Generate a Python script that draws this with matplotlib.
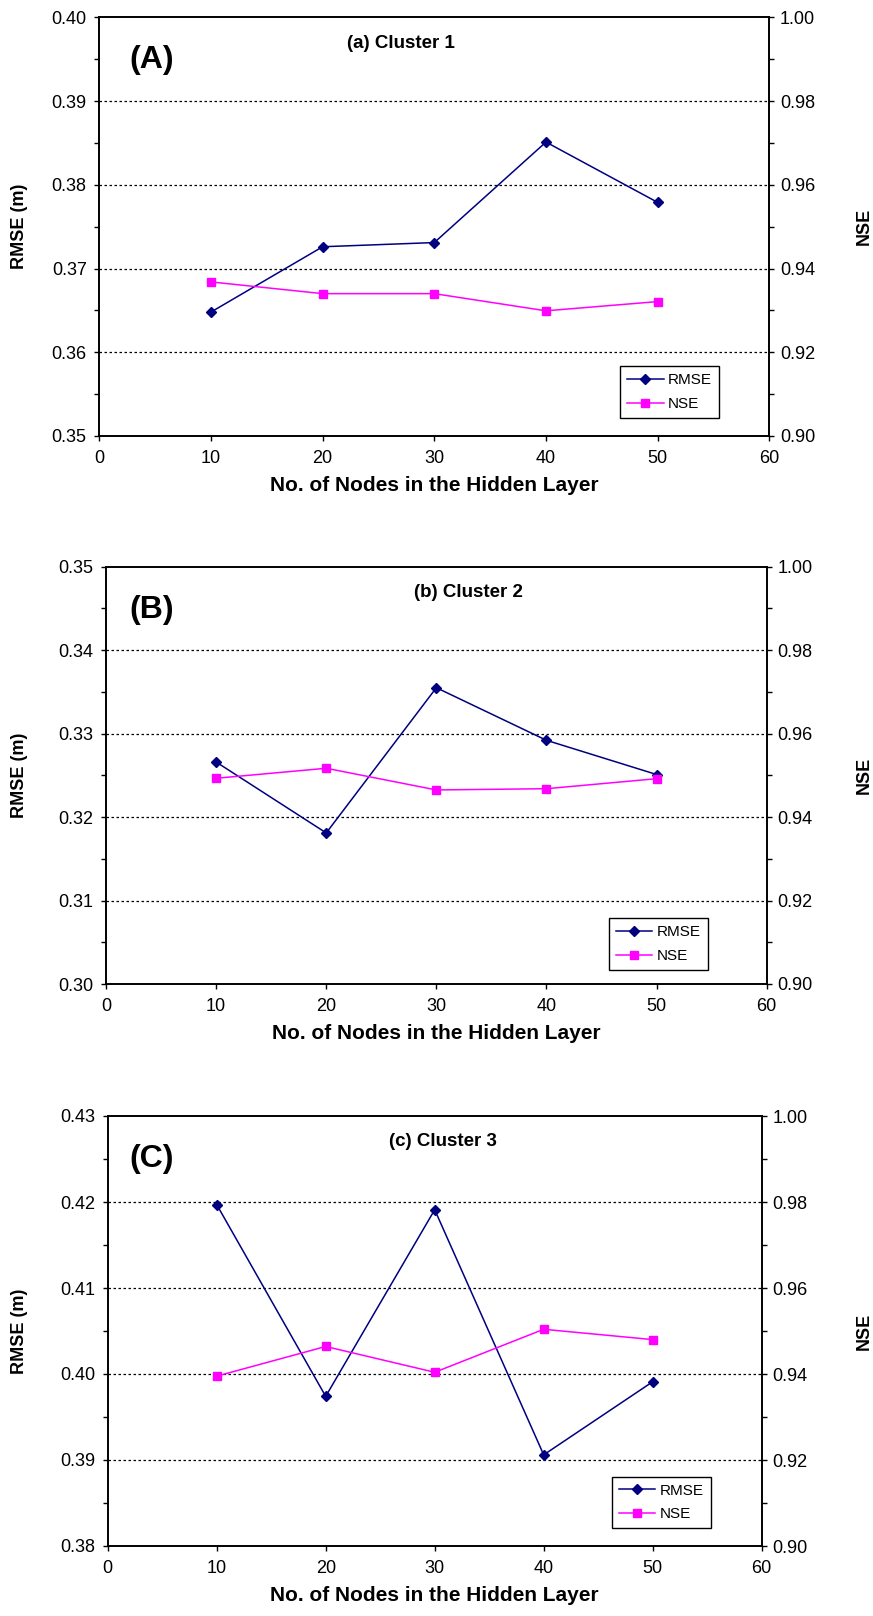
import numpy as np
import matplotlib
matplotlib.use('Agg')
import matplotlib.pyplot as plt

plt.rcParams['font.family'] = ['Liberation Sans', 'DejaVu Sans']
plt.rcParams['axes.linewidth'] = 1.2

# ---------------------------------------------------------------------------
# data
# ---------------------------------------------------------------------------
nodes = [10, 20, 30, 40, 50]

rmse_c1 = [0.3648, 0.3726, 0.3731, 0.3851, 0.3779]
nse_c1 = [0.9368, 0.9340, 0.9340, 0.9299, 0.9321]

rmse_c2 = [0.3266, 0.3181, 0.3355, 0.3292, 0.3251]
nse_c2 = [0.9493, 0.9517, 0.9465, 0.9468, 0.9492]

rmse_c3 = [0.4197, 0.3974, 0.4191, 0.3906, 0.3991]
nse_c3 = [0.9395, 0.9464, 0.9404, 0.9504, 0.9480]

panel_letters = ['(A)', '(B)', '(C)']
panel_titles = ['(a) Cluster 1', '(b) Cluster 2', '(c) Cluster 3']
rmse_limits = [(0.35, 0.40), (0.30, 0.35), (0.38, 0.43)]
nse_limits = (0.90, 1.00)
x_ticks = [0, 10, 20, 30, 40, 50, 60]

# ---------------------------------------------------------------------------
# layout (pixel boxes of the three panels in an 873 x 1616 figure)
# ---------------------------------------------------------------------------
W, H = 873, 1616
boxes = [  # left, right, top, bottom
    (99.3, 769.3, 17.3, 436.0),
    (106.0, 766.7, 566.7, 984.0),
    (107.7, 761.7, 1116.0, 1546.0),
]
title_x = [0.45, 0.548, 0.513]
legend_anchor = [(0.925, 0.043), (0.911, 0.034), (0.922, 0.041)]

RMSE_COLOR = '#000080'
NSE_COLOR = '#FF00FF'

fig = plt.figure(figsize=(W / 100, H / 100), dpi=100)
fig.patch.set_facecolor('white')

series = [(rmse_c1, nse_c1), (rmse_c2, nse_c2), (rmse_c3, nse_c3)]

for i, (rmse, nse) in enumerate(series):
    l, r, t, b = boxes[i]
    ax_w, ax_h = r - l, b - t
    ax = fig.add_axes([l / W, 1 - b / H, ax_w / W, ax_h / H])
    ax2 = ax.twinx()

    lo, hi = rmse_limits[i]
    ax.set_xlim(0, 60)
    ax.set_ylim(lo, hi)
    ax2.set_ylim(*nse_limits)

    ax.set_xticks(x_ticks)
    ax.set_yticks(np.round(np.arange(lo, hi + 0.001, 0.01), 2))
    ax.set_yticks(np.round(np.arange(lo + 0.005, hi, 0.01), 3), minor=True)
    ax.yaxis.set_major_formatter(plt.FormatStrFormatter('%.2f'))
    ax2.set_yticks(np.round(np.arange(0.90, 1.001, 0.02), 2))
    ax2.set_yticks(np.round(np.arange(0.91, 1.00, 0.02), 2), minor=True)
    ax2.yaxis.set_major_formatter(plt.FormatStrFormatter('%.2f'))

    # dotted gridlines at the inner major ticks
    for yv in np.arange(lo + 0.01, hi - 0.001, 0.01):
        ax.axhline(yv, color='black', linestyle=(0, (2, 2)), linewidth=0.9, zorder=0)

    l1, = ax.plot(nodes, rmse, color=RMSE_COLOR, marker='D', markersize=5,
                  linewidth=1.1, label='RMSE', zorder=3)
    l2, = ax2.plot(nodes, nse, color=NSE_COLOR, marker='s', markersize=5.2,
                   linewidth=1.1, label='NSE', zorder=3)

    for a in (ax, ax2):
        a.tick_params(axis='both', which='both', direction='out', length=3.6,
                      width=1, labelsize=13, colors='black')
    ax.tick_params(axis='x', pad=6.5)
    ax.tick_params(axis='y', pad=5.5)
    ax2.tick_params(axis='y', pad=4)

    ax.set_xlabel('No. of Nodes in the Hidden Layer', fontsize=15,
                  fontweight='bold')
    ax.xaxis.set_label_coords(0.5, -40 / ax_h)
    ax.set_ylabel('RMSE (m)', fontsize=13, fontweight='bold')
    ax.yaxis.set_label_coords((28 - l) / ax_w, 0.5)
    ax2.set_ylabel('NSE', fontsize=13, fontweight='bold', rotation=90,
                   va='center')
    ax2.yaxis.set_label_coords((864 - l) / ax_w, 0.5)

    ax.text((129 - l) / ax_w, 1 - 43 / ax_h, panel_letters[i],
            transform=ax.transAxes, fontsize=23, fontweight='bold',
            ha='left', va='center')
    ax.text(title_x[i], 1 - 26 / ax_h, panel_titles[i],
            transform=ax.transAxes, fontsize=13.5, fontweight='bold',
            ha='center', va='center')

    leg = ax2.legend([l1, l2], ['RMSE', 'NSE'], loc='lower right',
                     bbox_to_anchor=legend_anchor[i], borderaxespad=0,
                     fontsize=11, frameon=True, fancybox=False,
                     edgecolor='black', framealpha=1, handlelength=2.4,
                     handletextpad=0.3, borderpad=0.45, labelspacing=0.65)
    leg.get_frame().set_linewidth(1.0)

    for sp in ax.spines.values():
        sp.set_color('black')

fig.savefig('out.png', dpi=100, facecolor='white')
